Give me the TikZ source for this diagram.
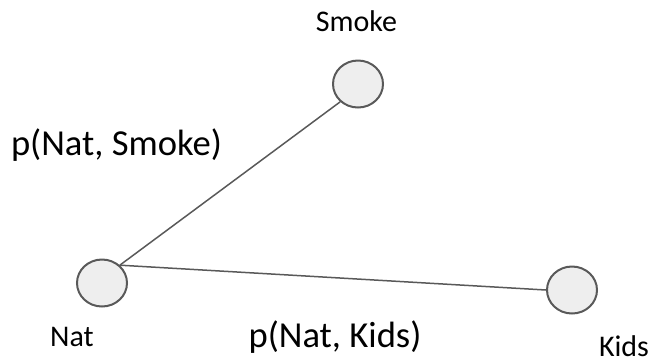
\documentclass[tikz,border=0pt]{standalone}
\usepackage{fontspec}
\setmainfont{Carlito}
\usetikzlibrary{shapes.geometric}
\definecolor{edgegray}{RGB}{89,89,89}
\definecolor{nodefill}{RGB}{238,238,238}

\begin{document}
\begin{tikzpicture}[x=.5pt,y=-.5pt,
  var/.style={ellipse,draw=edgegray,fill=nodefill,line width=1pt,
    minimum width=25pt,minimum height=23.5pt,inner sep=0pt},
  edge/.style={edgegray,line width=.75pt},
  lbl/.style={anchor=base,inner sep=0pt,font=\fontsize{15}{18}\selectfont},
  plbl/.style={anchor=base,inner sep=0pt,font=\fontsize{18.3}{22}\selectfont}]
  \useasboundingbox (0,0) rectangle (652,361);
  \node[var] (smoke) at (358,84) {};
  \node[var] (nat) at (102,283) {};
  \node[var] (kids) at (572,290) {};
  \draw[edge] (nat.45)--(smoke.225);
  \draw[edge] (nat.45)--(kids.west);
  \node[lbl] (smokelbl) at (356.5,31) {Smoke};
  \node[lbl] (natlbl) at (72,346) {Nat};
  \node[lbl] (kidslbl) at (624,356) {Kids};
  \node[plbl] (psmoke) at (116.5,155) {p(Nat, Smoke)};
  \node[plbl] (pkids) at (335,347) {p(Nat, Kids)};
\end{tikzpicture}
\end{document}
